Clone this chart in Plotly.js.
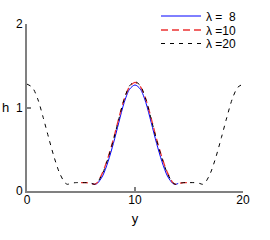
<!DOCTYPE html>
<html>
<head>
<meta charset="utf-8">
<script src="https://cdn.plot.ly/plotly-3.0.1.min.js"></script>
<style>html,body{margin:0;padding:0;background:#fff;}#chart{width:270px;height:240px;}</style>
</head>
<body>
<div id="chart"></div>
<script>
// λ = 20
const x20 = [0,0.5,1,1.5,2,2.5,3,3.5,3.75,4,4.5,5,5.5,6,6.25,6.5,7,7.5,8,8.5,9,9.5,10,10.5,11,11.5,12,12.5,13,13.5,13.75,14,14.5,15,15.5,16,16.25,16.5,17,17.5,18,18.5,19,19.5,20];
const h20 = [1.28,1.24,1.10,0.88,0.64,0.41,0.22,0.10,0.08,0.09,0.10,0.10,0.10,0.09,0.08,0.10,0.21,0.39,0.61,0.86,1.10,1.26,1.31,1.26,1.10,0.86,0.61,0.39,0.21,0.10,0.08,0.09,0.10,0.10,0.10,0.09,0.08,0.10,0.22,0.41,0.64,0.88,1.10,1.24,1.28];
// λ = 10
const x10 = [5,5.5,6,6.25,6.5,7,7.5,8,8.5,9,9.5,10,10.5,11,11.5,12,12.5,13,13.5,13.75,14,14.5,15];
const h10 = [0.10,0.10,0.09,0.08,0.10,0.22,0.40,0.62,0.87,1.10,1.25,1.30,1.25,1.10,0.87,0.62,0.40,0.22,0.10,0.08,0.09,0.10,0.10];
// λ = 8
const x8 = [6,6.25,6.5,7,7.5,8,8.5,9,9.5,10,10.5,11,11.5,12,12.5,13,13.5,13.75,14];
const h8 = [0.09,0.08,0.09,0.18,0.35,0.57,0.82,1.06,1.22,1.27,1.22,1.06,0.82,0.57,0.35,0.18,0.09,0.08,0.09];

const names = ['\u03bb =\u00a0\u00a08', '\u03bb =10', '\u03bb =20'];
const xTicks = [0,10,20];
const yTicks = [0,1,2];

const FONT = 'Liberation Sans, Arial, sans-serif';

const traces = [
  {x: x8, y: h8, name: names[0], mode: 'lines', legend: 'legend',
   line: {color: '#0000ff', width: 1, shape: 'spline', smoothing: 0.8}},
  {x: x10, y: h10, name: names[1], mode: 'lines', legend: 'legend2',
   line: {color: 'rgb(235,50,50)', width: 1.3, dash: '7px,4px', shape: 'spline', smoothing: 0.8}},
  {x: x20, y: h20, name: names[2], mode: 'lines', legend: 'legend3',
   line: {color: '#000000', width: 1, dash: '4px,5px', shape: 'spline', smoothing: 0.8}}
];

const legBase = {xanchor: 'left', yanchor: 'middle', bgcolor: 'rgba(0,0,0,0)', borderwidth: 0,
  font: {family: FONT, size: 12, color: '#000'}, itemwidth: 40};
function lg(ypx){ return Object.assign({}, legBase, {x: (156-27)/216, y: (191-ypx)/167}); }

const axisCommon = {showline: true, linecolor: '#808080', linewidth: 2, mirror: false,
  ticks: 'inside', ticklen: 4, tickwidth: 2, tickcolor: '#808080',
  showgrid: false, zeroline: false, tickfont: {family: FONT, size: 12, color: '#000'}};

const layout = {
  width: 270, height: 240,
  margin: {l: 27, r: 27, t: 24, b: 49, autoexpand: false},
  paper_bgcolor: '#fff', plot_bgcolor: '#fff',
  showlegend: true,
  legend: lg(16), legend2: lg(30), legend3: lg(43.5),
  xaxis: Object.assign({}, axisCommon, {range: [0,20], tickvals: xTicks, ticktext: xTicks.map(String),
    ticklabelstandoff: -3,
    title: {text: 'y', font: {family: FONT, size: 13, color: '#000'}, standoff: 7}}),
  yaxis: Object.assign({}, axisCommon, {range: [0,2], tickvals: yTicks, ticktext: yTicks.map(String)}),
  annotations: [{text: 'h', xref: 'paper', yref: 'y', x: (5-27)/216, y: 1, showarrow: false,
    xanchor: 'center', yanchor: 'middle', font: {family: FONT, size: 13, color: '#000'}}]
};

Plotly.newPlot('chart', traces, layout, {displayModeBar: false, staticPlot: true});
</script>
</body>
</html>
